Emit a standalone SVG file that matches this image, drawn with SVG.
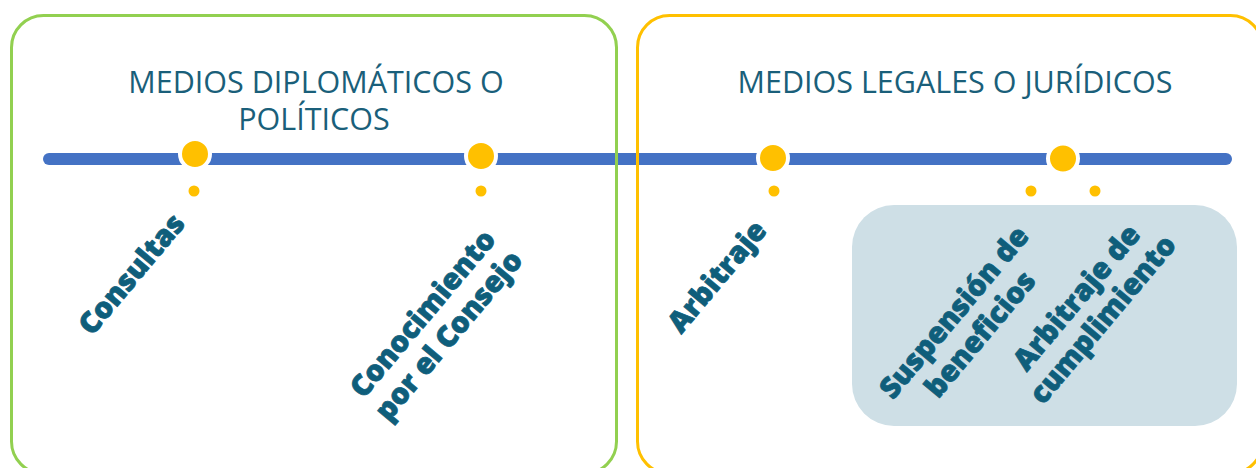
<svg xmlns="http://www.w3.org/2000/svg" width="1256" height="468" viewBox="0 0 1256 468">
  <style>
    .title { font-family: "Open Sans", "Liberation Sans", sans-serif; font-size: 30.5px; font-weight: 500; fill: #1A5F7A; text-anchor: middle; }
    .label { font-family: "Open Sans", "Liberation Sans", sans-serif; font-size: 29px; font-weight: 800; fill: #0F5E7B; stroke: #0F5E7B; stroke-width: 0.8; stroke-linejoin: round; text-anchor: middle; }
    .big { fill: #FFC000; stroke: #FFFFFF; stroke-width: 4; }
    .dot { fill: #FFC000; }
    .frame { fill: none; stroke-width: 3; }
  </style>
  <rect width="1256" height="468" fill="#FFFFFF"/>
  <g id="panel-legal-highlight">
    <rect x="852" y="205" width="385" height="221" rx="42" ry="42" fill="#CEDFE6"/>
  </g>
  <g id="connectors">
    <line x1="49" y1="159" x2="1226" y2="159" stroke="#4472C4" stroke-width="12" stroke-linecap="round"/>
  </g>
  <g id="panel-diplomaticos">
    <rect class="frame" x="11.5" y="15.5" width="605" height="458" rx="32" ry="32" stroke="#92D050"/>
    <text class="title" x="316" y="93">MEDIOS DIPLOMÁTICOS O</text>
    <text class="title" x="314" y="130">POLÍTICOS</text>
  </g>
  <g id="panel-juridicos">
    <rect class="frame" x="637.5" y="15.5" width="625" height="458" rx="32" ry="32" stroke="#FFC000"/>
    <text class="title" x="955" y="93">MEDIOS LEGALES O JURÍDICOS</text>
  </g>
  <g id="node-consultas">
    <circle class="big" cx="195" cy="154" r="15"/>
    <circle class="dot" cx="194" cy="191" r="5.5"/>
    <text class="label" transform="translate(131.5 274) rotate(-50)" x="0" y="10">Consultas</text>
  </g>
  <g id="node-conocimiento">
    <circle class="big" cx="481" cy="156" r="15"/>
    <circle class="dot" cx="481" cy="191" r="5.5"/>
    <text class="label" transform="translate(436.4 325) rotate(-50)" x="0" y="-8">Conocimiento</text>
    <text class="label" transform="translate(436.4 325) rotate(-50)" x="0" y="26">por el Consejo</text>
  </g>
  <g id="node-arbitraje">
    <circle class="big" cx="773" cy="158" r="15"/>
    <circle class="dot" cx="774" cy="191" r="5.5"/>
    <text class="label" transform="translate(717 276.5) rotate(-50)" x="0" y="10">Arbitraje</text>
  </g>
  <g id="node-cumplimiento-hub">
    <circle class="big" cx="1063" cy="158.5" r="15"/>
  </g>
  <g id="node-suspension">
    <circle class="dot" cx="1031" cy="191" r="5.5"/>
    <text class="label" transform="translate(967.8 323.8) rotate(-50)" x="0" y="-8">Suspensión de</text>
    <text class="label" transform="translate(967.8 323.8) rotate(-50)" x="0" y="26">beneficios</text>
  </g>
  <g id="node-arbitraje-cumplimiento">
    <circle class="dot" cx="1095" cy="191" r="5.5"/>
    <text class="label" transform="translate(1090.4 309) rotate(-50)" x="0" y="-8">Arbitraje de</text>
    <text class="label" transform="translate(1090.4 309) rotate(-50)" x="0" y="26">cumplimiento</text>
  </g>
</svg>
